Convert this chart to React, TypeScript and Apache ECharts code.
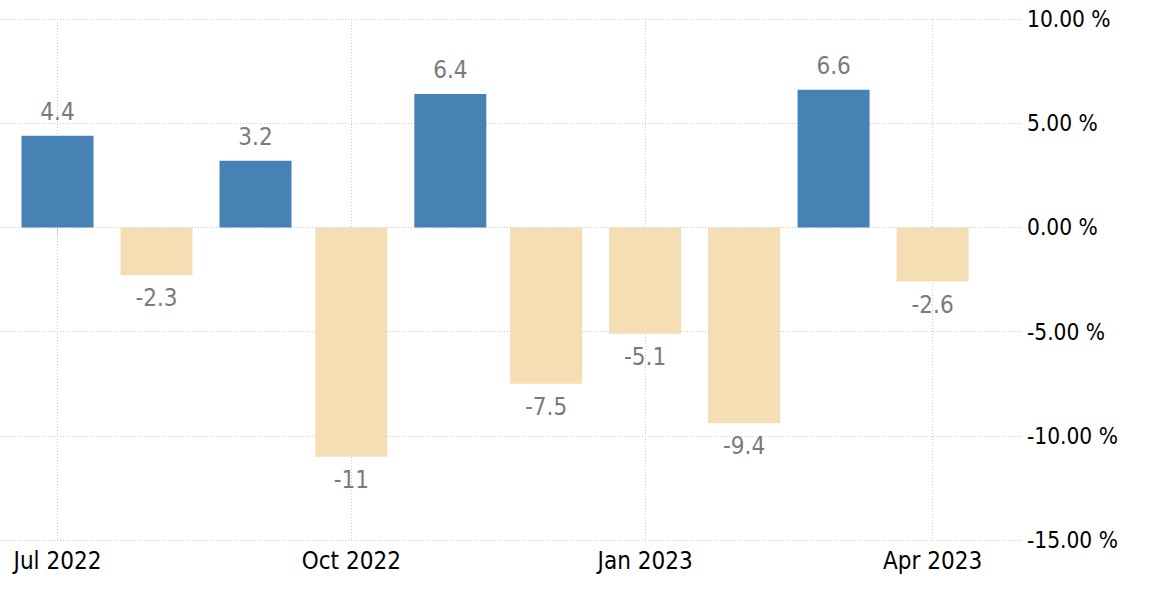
import React, { useEffect, useRef } from "react";
import * as echarts from "echarts";

const months: [number, number][] = [
  [2022, 6], [2022, 7], [2022, 8], [2022, 9], [2022, 10],
  [2022, 11], [2023, 0], [2023, 1], [2023, 2], [2023, 3],
];
const values: number[] = [4.4, -2.3, 3.2, -11, 6.4, -7.5, -5.1, -9.4, 6.6, -2.6];
const tickMonths: [number, number][] = [[2022, 6], [2022, 9], [2023, 0], [2023, 3]];
const monthNames = ["Jan", "Feb", "Mar", "Apr", "May", "Jun", "Jul", "Aug", "Sep", "Oct", "Nov", "Dec"];

const POS = "#4682B4";
const NEG = "#F5DEB3";
const FONT = "'DejaVu Sans Condensed', 'DejaVu Sans', sans-serif";

export default function App() {
  const ref = useRef<HTMLDivElement>(null);
  useEffect(() => {
    if (!ref.current) return;
    const chart = echarts.init(ref.current, undefined, { renderer: "svg" });
    const ts = (m: [number, number]) => new Date(m[0], m[1], 1).getTime();
    const tickVals = tickMonths.map(ts);
    const day = 86400000;
    chart.setOption({
      animation: false,
      grid: { left: 0, right: 153, top: 19, bottom: 75 },
      xAxis: {
        type: "value",
        min: ts([2022, 6]) - 18 * day,
        max: ts([2023, 3]) + 28 * day,
        axisLine: { show: false },
        axisTick: {
          show: true,
          customValues: tickVals,
          length: 8,
          lineStyle: { color: "#cccccc" },
        },
        axisLabel: {
          customValues: tickVals,
          formatter: (v: number) => {
            const d = new Date(v);
            return monthNames[d.getMonth()] + " " + d.getFullYear();
          },
          color: "#000",
          fontFamily: FONT,
          fontSize: 24,
          margin: 9,
        },
        splitLine: {
          show: true,
          lineStyle: { color: "#c8c8c8", type: [1, 2], width: 1 },
        },
      },
      yAxis: {
        type: "value",
        position: "right",
        min: -15,
        max: 10,
        interval: 5,
        axisLine: { show: false },
        axisTick: { show: false },
        axisLabel: {
          formatter: (v: number) => v.toFixed(2) + " %",
          color: "#000",
          fontFamily: FONT,
          fontSize: 22.5,
          margin: 5,
        },
        splitLine: {
          show: true,
          lineStyle: { color: "#c8c8c8", type: [1, 2], width: 1 },
        },
      },
      series: [
        {
          type: "bar",
          barWidth: 72,
          data: months.map((m, i) => {
            const v = values[i];
            return {
              value: [ts(m), v],
              itemStyle: { color: v >= 0 ? POS : NEG },
              label: {
                show: true,
                position: v >= 0 ? "top" : "bottom",
                distance: v >= 0 ? 12 : 11,
                formatter: String(v),
                color: "#7a7a7a",
                fontFamily: FONT,
                fontSize: 24,
              },
            };
          }),
        },
      ],
    });
    return () => chart.dispose();
  }, []);
  return (
    <div
      ref={ref}
      style={{ position: "fixed", left: 0, top: 0, width: 1175, height: 615, background: "#fff" }}
    />
  );
}
